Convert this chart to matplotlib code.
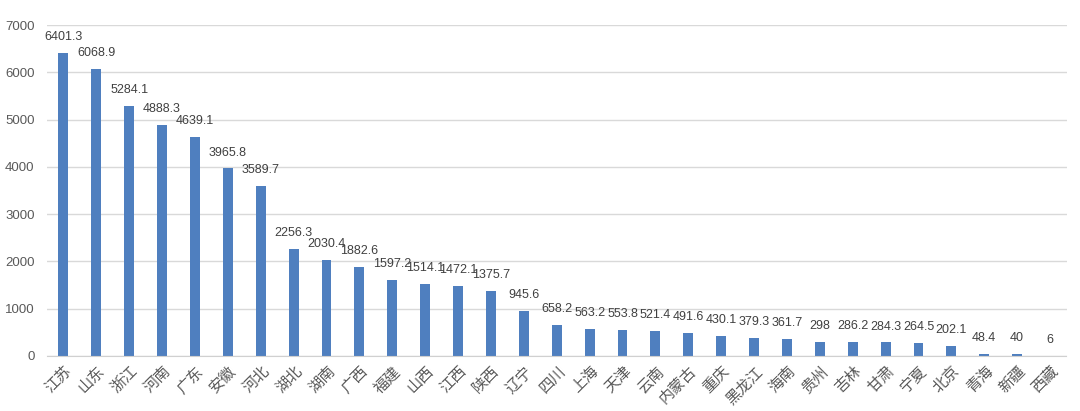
import matplotlib
matplotlib.use('Agg')
import matplotlib.pyplot as plt
import numpy as np

plt.rcParams['font.family'] = ['Noto Sans CJK SC', 'DejaVu Sans']

provinces = ['江苏', '山东', '浙江', '河南', '广东', '安徽', '河北', '湖北', '湖南', '广西',
             '福建', '山西', '江西', '陕西', '辽宁', '四川', '上海', '天津', '云南', '内蒙古',
             '重庆', '黑龙江', '海南', '贵州', '吉林', '甘肃', '宁夏', '北京', '青海', '新疆', '西藏']
values = [6401.3, 6068.9, 5284.1, 4888.3, 4639.1, 3965.8, 3589.7, 2256.3, 2030.4, 1882.6,
          1597.2, 1514.1, 1472.1, 1375.7, 945.6, 658.2, 563.2, 553.8, 521.4, 491.6,
          430.1, 379.3, 361.7, 298, 286.2, 284.3, 264.5, 202.1, 48.4, 40, 6]
yticks = [0, 1000, 2000, 3000, 4000, 5000, 6000, 7000]

fig = plt.figure(figsize=(10.8, 4.11), dpi=100)
ax = fig.add_axes([0.0435, 0.134, 0.944, 0.805])

x = np.arange(len(provinces))
ax.bar(x, values, width=0.3, color='#4F7FBF', zorder=3)

# data labels above each bar
for xi, v in zip(x, values):
    ax.annotate('%g' % v, (xi, v), xytext=(0, 11.5), textcoords='offset points',
                ha='center', va='center', fontsize=9, color='#404040',
                family=['Liberation Sans', 'DejaVu Sans'])

ax.set_xlim(-0.5, len(provinces) - 0.5)
ax.set_ylim(0, 7000)
ax.set_yticks(yticks)
ax.set_yticklabels([str(t) for t in yticks], fontsize=9.5, color='#595959',
                   family=['Liberation Sans', 'DejaVu Sans'])
ax.set_xticks(x)
ax.set_xticklabels(provinces, rotation=45, ha='right', va='top', rotation_mode='anchor',
                   fontsize=11, color='#595959')
ax.tick_params(axis='both', length=0)
ax.tick_params(axis='x', pad=5)
ax.tick_params(axis='y', pad=9)
ax.grid(axis='y', color='#d9d9d9', linewidth=1, zorder=0)
for s in ['top', 'right', 'left']:
    ax.spines[s].set_visible(False)
ax.spines['bottom'].set_color('#d0d0d0')
ax.spines['bottom'].set_zorder(4)

fig.savefig('out.png', dpi=100, facecolor='white')
